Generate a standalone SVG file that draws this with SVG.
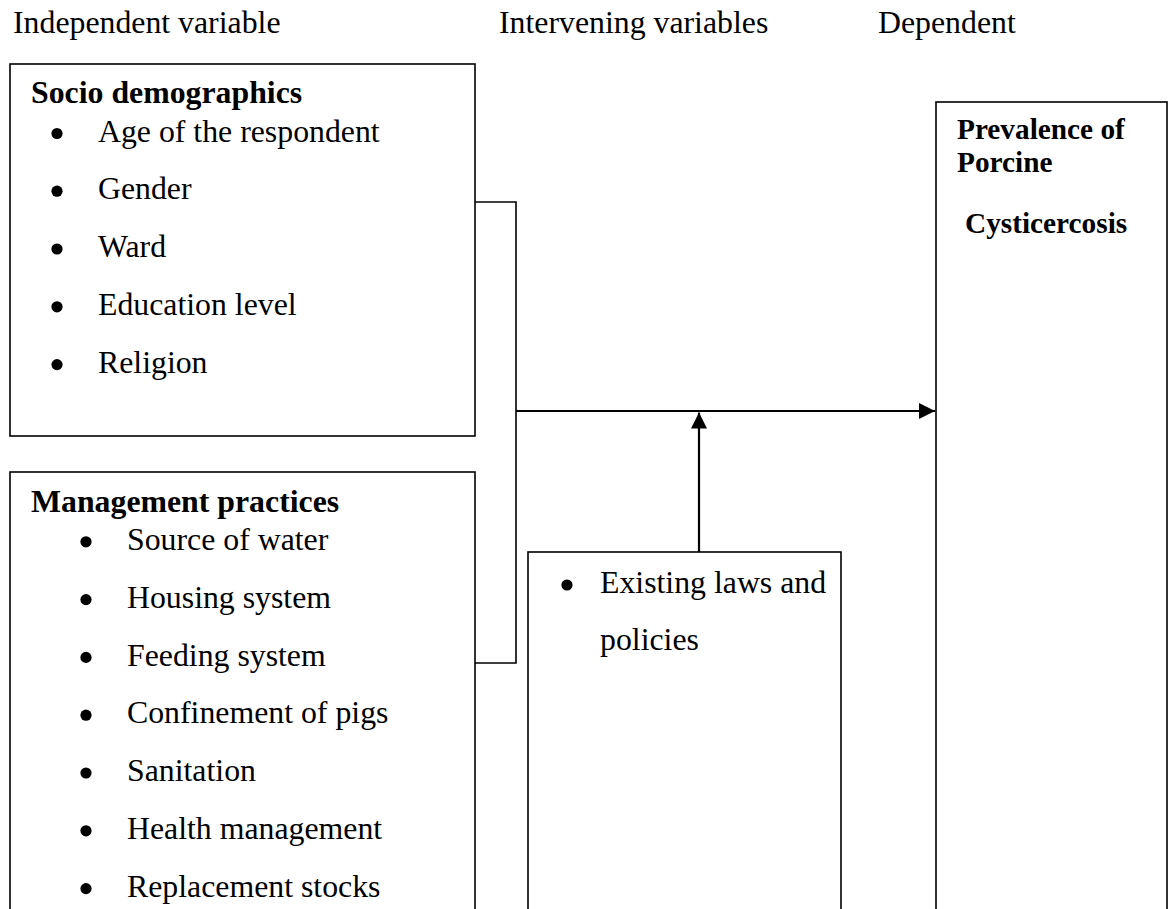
<svg xmlns="http://www.w3.org/2000/svg" width="1168" height="909" viewBox="0 0 1168 909">
<style>
text{font-family:"Liberation Serif","Times New Roman",serif;fill:#000}
.h{font-size:31.8px}
.t{font-size:31.8px}
.b{font-size:31.8px;font-weight:bold}
.rb{font-size:29.3px;font-weight:bold}
.box{fill:#fff;stroke:#000;stroke-width:1.6}
.dot{fill:#000}
.conn{fill:none;stroke:#000;stroke-width:1.6}
.arr{fill:none;stroke:#000;stroke-width:2.2}
</style>
<defs>
<marker id="ah" markerWidth="16" markerHeight="16" viewBox="0 0 16 16" refX="16" refY="8" orient="auto" markerUnits="userSpaceOnUse">
<path d="M0,0 L16,8 L0,16 Z" fill="#000"/>
</marker>
</defs>
<rect width="1168" height="909" fill="#fff"/>
<g id="headers">
<text class="h" x="13" y="33">Independent variable</text>
<text class="h" x="499" y="33">Intervening variables</text>
<text class="h" x="878" y="33">Dependent</text>
</g>
<g id="socio">
<rect class="box" x="10" y="64" width="465" height="372"/>
<text class="b" x="31" y="103">Socio demographics</text>
<circle class="dot" cx="57" cy="133.5" r="5.6"/><text class="t" x="98" y="141.7">Age of the respondent</text>
<circle class="dot" cx="57" cy="191.2" r="5.6"/><text class="t" x="98" y="199.4">Gender</text>
<circle class="dot" cx="57" cy="249" r="5.6"/><text class="t" x="98" y="257.2">Ward</text>
<circle class="dot" cx="57" cy="306.8" r="5.6"/><text class="t" x="98" y="315">Education level</text>
<circle class="dot" cx="57" cy="364.6" r="5.6"/><text class="t" x="98" y="372.8">Religion</text>
</g>
<g id="management">
<rect class="box" x="10" y="472" width="465" height="460"/>
<text class="b" x="31" y="511.7">Management practices</text>
<circle class="dot" cx="86" cy="541.8" r="5.6"/><text class="t" x="127" y="550">Source of water</text>
<circle class="dot" cx="86" cy="599.6" r="5.6"/><text class="t" x="127" y="607.8">Housing system</text>
<circle class="dot" cx="86" cy="657.4" r="5.6"/><text class="t" x="127" y="665.6">Feeding system</text>
<circle class="dot" cx="86" cy="715.2" r="5.6"/><text class="t" x="127" y="723.4">Confinement of pigs</text>
<circle class="dot" cx="86" cy="773" r="5.6"/><text class="t" x="127" y="781.2">Sanitation</text>
<circle class="dot" cx="86" cy="830.8" r="5.6"/><text class="t" x="127" y="839">Health management</text>
<circle class="dot" cx="86" cy="888.6" r="5.6"/><text class="t" x="127" y="896.8">Replacement stocks</text>
</g>
<g id="intervening">
<rect class="box" x="528" y="552" width="313" height="380"/>
<circle class="dot" cx="567" cy="585" r="5.6"/><text class="t" x="600" y="593.3">Existing laws and</text>
<text class="t" x="600" y="650">policies</text>
</g>
<g id="dependent">
<rect class="box" x="936" y="102" width="231" height="830"/>
<text class="rb" x="957" y="139.3">Prevalence of</text>
<text class="rb" x="957" y="171.7">Porcine</text>
<text class="rb" x="965" y="232.7">Cysticercosis</text>
</g>
<g id="connectors">
<path class="conn" d="M475,202 H516 V663 H475"/>
<line class="arr" x1="516" y1="411" x2="935" y2="411" marker-end="url(#ah)"/>
<line class="arr" x1="699" y1="552" x2="699" y2="412.5" marker-end="url(#ah)"/>
</g>
</svg>
